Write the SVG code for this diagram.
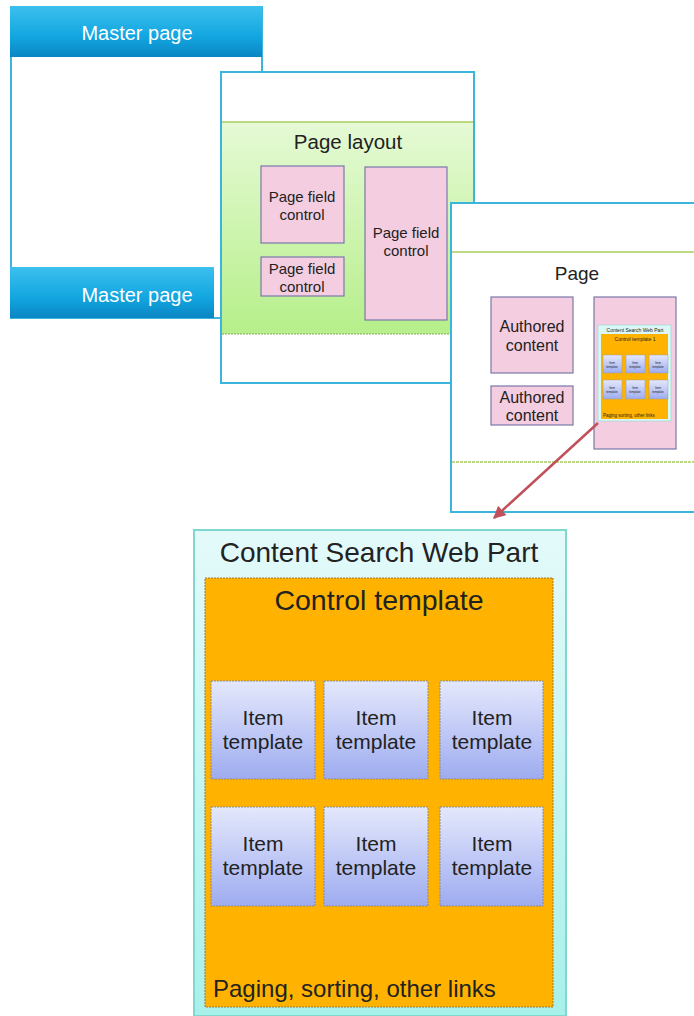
<svg xmlns="http://www.w3.org/2000/svg" width="694" height="1016" viewBox="0 0 694 1016">
<defs>
<linearGradient id="blueBar" x1="0" y1="0" x2="0" y2="1">
<stop offset="0" stop-color="#3cc0ee"/>
<stop offset="0.6" stop-color="#12a6e0"/>
<stop offset="1" stop-color="#0a86c4"/>
</linearGradient>
<linearGradient id="greenBand" x1="0" y1="0" x2="0" y2="1">
<stop offset="0" stop-color="#e6fad6"/>
<stop offset="1" stop-color="#b6ef8a"/>
</linearGradient>
<linearGradient id="itemGrad" x1="0" y1="0" x2="0" y2="1">
<stop offset="0" stop-color="#e4e8fc"/>
<stop offset="1" stop-color="#9eacf0"/>
</linearGradient>
<linearGradient id="cswpGrad" x1="0" y1="0" x2="0" y2="1">
<stop offset="0" stop-color="#e4fafa"/>
<stop offset="1" stop-color="#a8f0ea"/>
</linearGradient>
<marker id="arrowHead" viewBox="0 0 10 10" refX="9" refY="5" markerWidth="5" markerHeight="5" orient="auto">
<path d="M0,0 L10,5 L0,10 z" fill="#c0505a"/>
</marker>
<style>
.txt{font-family:"Liberation Sans",Arial,sans-serif;text-anchor:middle;fill:#222}
.white{fill:#ffffff}
.frame{fill:#ffffff;stroke:#3cb4dc;stroke-width:2}
.pink{fill:#f5cde0;stroke:#7a78a8;stroke-width:1.2}
.item{fill:url(#itemGrad);stroke:#8a8a8a;stroke-width:1;stroke-dasharray:2 1}
.greenline{stroke:#a8cc60;stroke-width:1.5}
.mitem{fill:url(#itemGrad);stroke:#9a9a9a;stroke-width:0.5}
.it{font-size:21px}
</style>
</defs>

<g id="master-page">
<rect x="11" y="7" width="251" height="311" fill="#ffffff" stroke="#3cb4dc" stroke-width="2"/>
<rect x="10" y="6" width="252" height="51" fill="url(#blueBar)"/>
<text class="txt white" x="137" y="40" font-size="20">Master page</text>
<rect x="10" y="267" width="204" height="51" fill="url(#blueBar)"/>
<text class="txt white" x="137" y="302" font-size="20">Master page</text>
</g>

<g id="page-layout">
<rect x="221" y="72" width="253" height="311" class="frame"/>
<rect x="222" y="122" width="251" height="212" fill="url(#greenBand)"/>
<line x1="222" y1="122" x2="473" y2="122" class="greenline"/>
<line x1="222" y1="334" x2="473" y2="334" stroke="#8aa860" stroke-width="1" stroke-dasharray="2 1"/>
<text class="txt" x="348" y="149" font-size="20.5">Page layout</text>
<rect x="261" y="166" width="83" height="77" class="pink"/>
<text class="txt" x="302" y="202" font-size="15">Page field</text>
<text class="txt" x="302" y="220" font-size="15">control</text>
<rect x="261" y="257" width="83" height="39" class="pink"/>
<text class="txt" x="302" y="274" font-size="15">Page field</text>
<text class="txt" x="302" y="292" font-size="15">control</text>
<rect x="365" y="167" width="82" height="153" class="pink"/>
<text class="txt" x="406" y="238" font-size="15">Page field</text>
<text class="txt" x="406" y="256" font-size="15">control</text>
</g>

<g id="page">
<rect x="451" y="203" width="250" height="309" class="frame"/>
<line x1="452" y1="252" x2="694" y2="252" class="greenline"/>
<line x1="452" y1="462" x2="694" y2="462" class="greenline" stroke-dasharray="3 1"/>
<text class="txt" x="577" y="280" font-size="19">Page</text>
<rect x="491" y="297" width="82" height="76" class="pink"/>
<text class="txt" x="532" y="332" font-size="16">Authored</text>
<text class="txt" x="532" y="351" font-size="16">content</text>
<rect x="491" y="386" width="82" height="39" class="pink"/>
<text class="txt" x="532" y="403" font-size="16">Authored</text>
<text class="txt" x="532" y="421" font-size="16">content</text>
<rect x="594" y="297" width="82" height="152" class="pink"/>
<g id="mini-cswp">
<rect x="598" y="325" width="73" height="96" fill="#dcf8f6" stroke="#8ad8d0" stroke-width="0.6"/>
<text class="txt" x="635" y="332" font-size="5" fill="#335">Content Search Web Part</text>
<rect x="601" y="334" width="67" height="85" fill="#ffb300"/>
<text class="txt" x="635" y="341" font-size="5">Control template 1</text>
<rect x="603" y="355" width="19" height="18" class="mitem"/>
<rect x="626" y="355" width="19" height="18" class="mitem"/>
<rect x="649" y="355" width="19" height="18" class="mitem"/>
<rect x="603" y="380" width="19" height="19" class="mitem"/>
<rect x="626" y="380" width="19" height="19" class="mitem"/>
<rect x="649" y="380" width="19" height="19" class="mitem"/>
<text class="txt" x="612" y="364" font-size="3">Item</text>
<text class="txt" x="612" y="368" font-size="3">template</text>
<text class="txt" x="635" y="364" font-size="3">Item</text>
<text class="txt" x="635" y="368" font-size="3">template</text>
<text class="txt" x="658" y="364" font-size="3">Item</text>
<text class="txt" x="658" y="368" font-size="3">template</text>
<text class="txt" x="612" y="389" font-size="3">Item</text>
<text class="txt" x="612" y="393" font-size="3">template</text>
<text class="txt" x="635" y="389" font-size="3">Item</text>
<text class="txt" x="635" y="393" font-size="3">template</text>
<text class="txt" x="658" y="389" font-size="3">Item</text>
<text class="txt" x="658" y="393" font-size="3">template</text>
<text class="txt" x="603" y="417" font-size="4.5" style="text-anchor:start">Paging sorting, other links</text>
</g>
</g>

<g id="connectors">
<line x1="598" y1="423" x2="494" y2="518" stroke="#c0505a" stroke-width="2.5" marker-end="url(#arrowHead)"/>
</g>

<g id="cswp">
<rect x="194" y="530" width="372" height="486" fill="url(#cswpGrad)" stroke="#7fd8d0" stroke-width="2"/>
<text class="txt" x="379" y="562" font-size="28">Content Search Web Part</text>
<rect x="205" y="578" width="348" height="429" fill="#ffb300" stroke="#a07830" stroke-width="1" stroke-dasharray="2 1"/>
<text class="txt" x="379" y="610" font-size="28.5">Control template</text>
<g id="item-1"><rect x="211" y="681" width="104" height="98" class="item"/><text class="txt it" x="263" y="725">Item</text><text class="txt it" x="263" y="749">template</text></g>
<g id="item-2"><rect x="324" y="681" width="104" height="98" class="item"/><text class="txt it" x="376" y="725">Item</text><text class="txt it" x="376" y="749">template</text></g>
<g id="item-3"><rect x="440" y="681" width="103" height="98" class="item"/><text class="txt it" x="492" y="725">Item</text><text class="txt it" x="492" y="749">template</text></g>
<g id="item-4"><rect x="211" y="807" width="104" height="99" class="item"/><text class="txt it" x="263" y="851">Item</text><text class="txt it" x="263" y="875">template</text></g>
<g id="item-5"><rect x="324" y="807" width="104" height="99" class="item"/><text class="txt it" x="376" y="851">Item</text><text class="txt it" x="376" y="875">template</text></g>
<g id="item-6"><rect x="440" y="807" width="103" height="99" class="item"/><text class="txt it" x="492" y="851">Item</text><text class="txt it" x="492" y="875">template</text></g>
<text class="txt" x="213" y="997" font-size="24" style="text-anchor:start">Paging, sorting, other links</text>
</g>
</svg>
